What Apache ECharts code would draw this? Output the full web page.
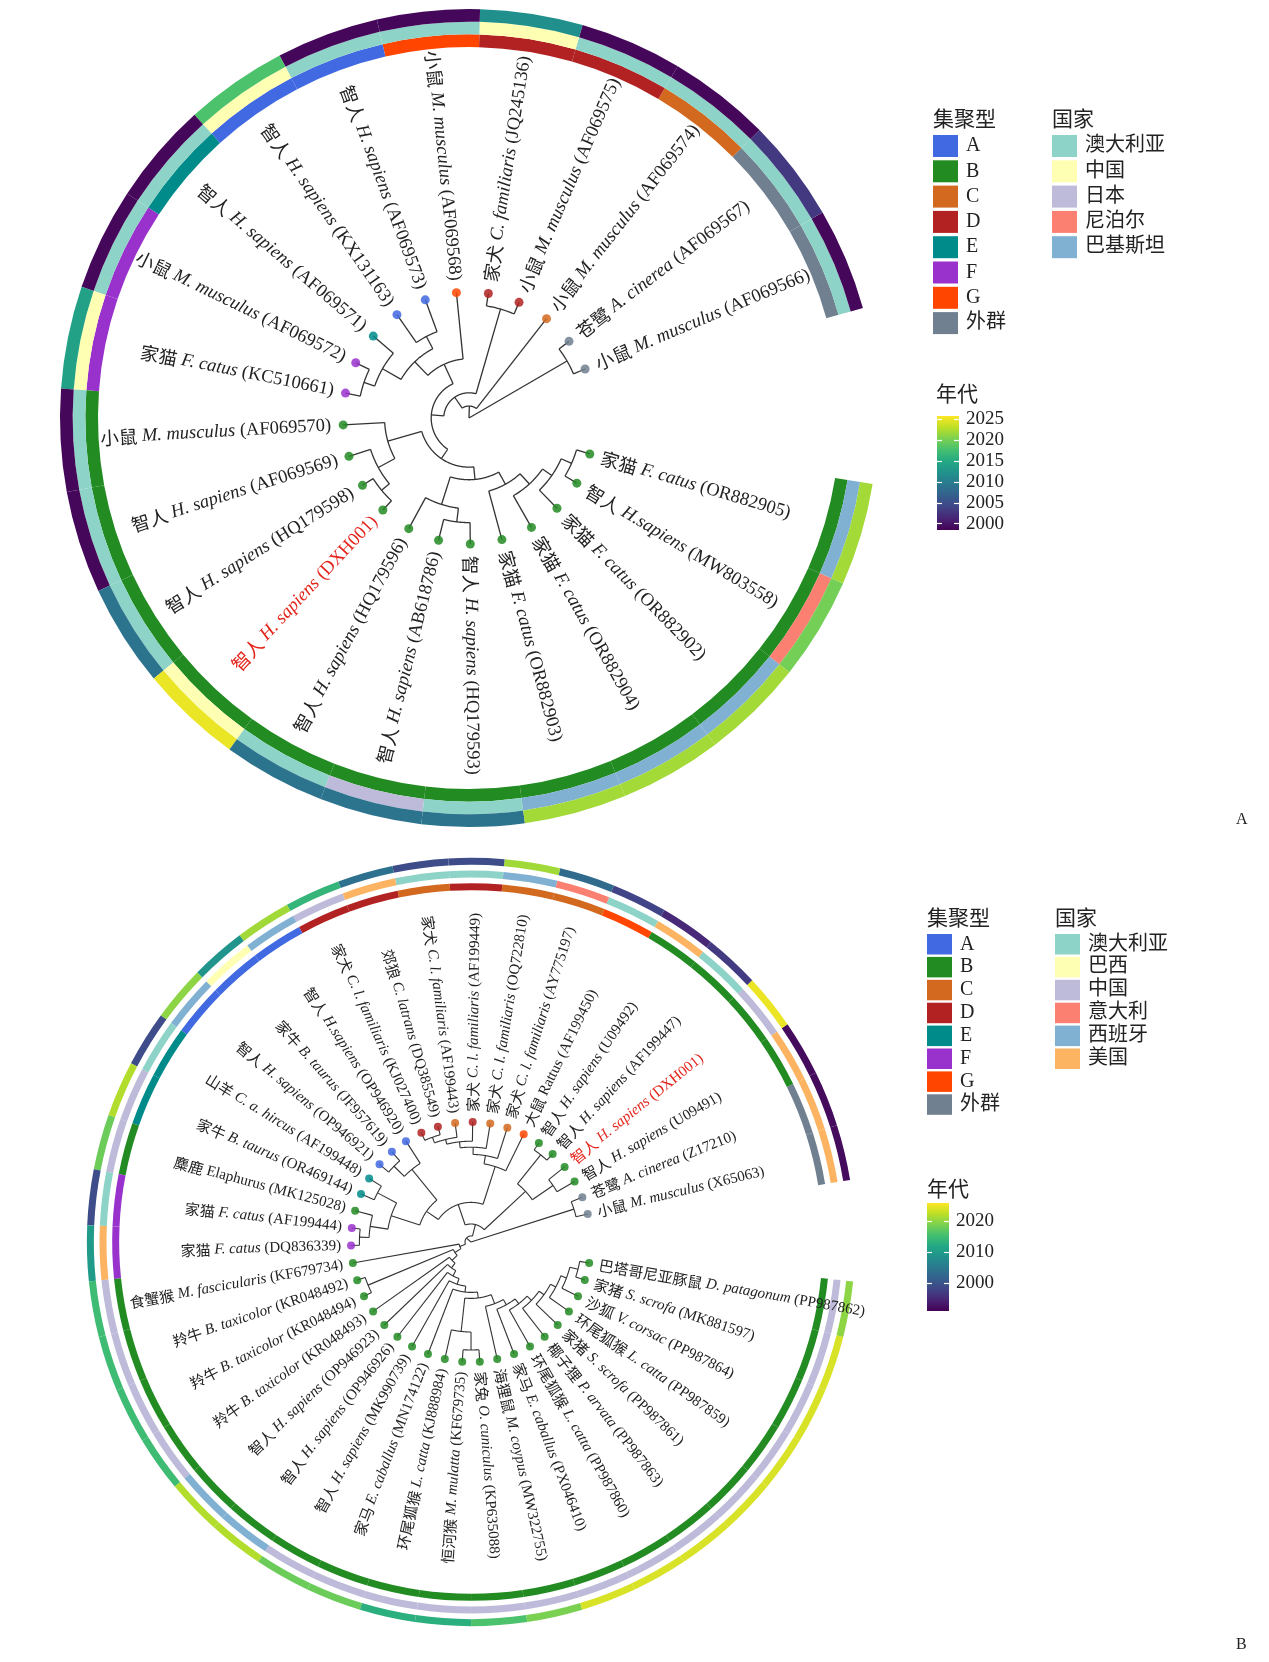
<!DOCTYPE html>
<html lang="zh">
<head>
<meta charset="utf-8">
<title>系统发育树</title>
<script src="https://cdn.jsdelivr.net/npm/echarts@6.0.0/dist/echarts.min.js"></script>
<style>
  html, body { margin: 0; padding: 0; background: #fff; }
  #main { width: 1269px; height: 1662px; }
</style>
</head>
<body>
<div id="main"></div>
<script type="text/javascript">
// ---------- 通用图例 ----------
var clusterNames = ['A', 'B', 'C', 'D', 'E', 'F', 'G', '外群'];
var clusterColors = ['#4169E1', '#228B22', '#D2691E', '#B22222', '#008B8B', '#9932CC', '#FF4500', '#708090'];

// ---------- 图 A ----------
var cnA = ['小鼠', '苍鹭', '小鼠', '小鼠', '家犬', '小鼠', '智人', '智人', '智人', '小鼠', '家猫', '小鼠',
  '智人', '智人', '智人', '智人', '智人', '智人', '家猫', '家猫', '家猫', '智人', '家猫'];
var spA = ['M. musculus', 'A. cinerea', 'M. musculus', 'M. musculus', 'C. familiaris', 'M. musculus',
  'H. sapiens', 'H. sapiens', 'H. sapiens', 'M. musculus', 'F. catus', 'M. musculus', 'H. sapiens',
  'H. sapiens', 'H. sapiens', 'H. sapiens', 'H. sapiens', 'H. sapiens', 'F. catus', 'F. catus',
  'F. catus', 'H.sapiens', 'F. catus'];
var accA = ['AF069566', 'AF069567', 'AF069574', 'AF069575', 'JQ245136', 'AF069568', 'AF069573',
  'KX131163', 'AF069571', 'AF069572', 'KC510661', 'AF069570', 'AF069569', 'HQ179598', 'DXH001',
  'HQ179596', 'AB618786', 'HQ179593', 'OR882903', 'OR882904', 'OR882902', 'MW803558', 'OR882905'];
var clusterA = ['外群', '外群', 'C', 'D', 'D', 'G', 'A', 'A', 'E', 'F', 'F', 'B', 'B', 'B', 'B', 'B',
  'B', 'B', 'B', 'B', 'B', 'B', 'B'];
var countryA = ['澳大利亚', '澳大利亚', '澳大利亚', '澳大利亚', '中国', '澳大利亚', '澳大利亚', '中国',
  '澳大利亚', '澳大利亚', '中国', '澳大利亚', '澳大利亚', '澳大利亚', '中国', '澳大利亚', '日本',
  '澳大利亚', '巴基斯坦', '巴基斯坦', '巴基斯坦', '尼泊尔', '巴基斯坦'];
var yearA = [1999, 2003, 1999, 1999, 2012, 1999, 1999, 2018, 1999, 1999, 2014, 1999, 1999, 2009,
  2025, 2009, 2009, 2009, 2022, 2022, 2022, 2020, 2022];
var countryNamesA = ['澳大利亚', '中国', '日本', '尼泊尔', '巴基斯坦'];
var countryColorsA = ['#8DD3C7', '#FFFFB3', '#BEBADA', '#FB8072', '#80B1D3'];
var yearTicksA = [2000, 2005, 2010, 2015, 2020, 2025];
var yearRangeA = [1998.5, 2025.8];
// 树结构: [节点深度(叶=100), 子节点...]，数字为叶序号
var treeA =
  [0,
    [90, 0, 1],
    [9.5, 2,
      [20,
        [90, 3, 4],
        [30,
          [47, 5, [62, [73, 6, 7], [79, 8, [88, 9, 10]]]],
          [39,
            [67, 11, [82, 12, [90, 13, 14]]],
            [49, [72, 15, [83, 16, 17]], [60, 18, [71, 19, [80, 20, [89, 21, 22]]]]]
          ]
        ]
      ]
    ]
  ];

// ---------- 图 B ----------
var cnB = ['小鼠', '苍鹭', '智人', '智人', '智人', '智人', '大鼠', '家犬', '家犬', '家犬', '家犬', '郊狼',
  '家犬', '智人', '家牛', '智人', '山羊', '家牛', '麋鹿', '家猫', '家猫', '食蟹猴', '羚牛', '羚牛', '羚牛',
  '智人', '智人', '智人', '家马', '环尾狐猴', '恒河猴', '家兔', '海狸鼠', '家马', '环尾狐猴', '椰子狸',
  '家猪', '环尾狐猴', '沙狐', '家猪', '巴塔哥尼亚豚鼠'];
var spB = ['M. musculus', 'A. cinerea', 'H. sapiens', 'H. sapiens', 'H. sapiens', 'H. sapiens', 'Rattus',
  'C. l. familiaris', 'C. l. familiaris', 'C. l. familiaris', 'C. l. familiaris', 'C. latrans',
  'C. l. familiaris', 'H.sapiens', 'B. taurus', 'H. sapiens', 'C. a. hircus', 'B. taurus', 'Elaphurus',
  'F. catus', 'F. catus', 'M. fascicularis', 'B. taxicolor', 'B. taxicolor', 'B. taxicolor',
  'H. sapiens', 'H. sapiens', 'H. sapiens', 'E. caballus', 'L. catta', 'M. mulatta', 'O. cuniculus',
  'M. coypus', 'E. caballus', 'L. catta', 'P. arvata', 'S. scrofa', 'L. catta', 'V. corsac',
  'S. scrofa', 'D. patagonum'];
var accB = ['X65063', 'Z17210', 'U09491', 'DXH001', 'AF199447', 'U09492', 'AF199450', 'AY775197',
  'OQ722810', 'AF199449', 'AF199443', 'DQ385549', 'KJ027400', 'OP946920', 'JF957619', 'OP946921',
  'AF199448', 'OR469144', 'MK125028', 'AF199444', 'DQ836339', 'KF679734', 'KR048492', 'KR048494',
  'KR048493', 'OP946923', 'OP946926', 'MK990739', 'MN174122', 'KJ888984', 'KF679735', 'KP635088',
  'MW322755', 'PX046410', 'PP987860', 'PP987863', 'PP987861', 'PP987859', 'PP987864', 'MK881597',
  'PP987862'];
var clusterB = ['外群', '外群', 'B', 'B', 'B', 'B', 'G', 'C', 'C', 'D', 'C', 'D', 'D', 'A', 'A', 'A',
  'E', 'E', 'B', 'F', 'F', 'B', 'B', 'B', 'B', 'B', 'B', 'B', 'B', 'B', 'B', 'B', 'B', 'B', 'B', 'B',
  'B', 'B', 'B', 'B', 'B'];
var countryB = ['美国', '美国', '美国', '中国', '澳大利亚', '美国', '澳大利亚', '意大利', '西班牙',
  '澳大利亚', '澳大利亚', '美国', '中国', '西班牙', '巴西', '西班牙', '澳大利亚', '中国', '中国',
  '澳大利亚', '美国', '中国', '中国', '中国', '中国', '西班牙', '西班牙', '中国', '中国', '中国', '中国',
  '中国', '中国', '中国', '中国', '中国', '中国', '中国', '中国', '中国', '中国'];
var yearB = [1992, 1992, 1992, 2025, 1997, 1995, 1998, 2003, 2021, 1999, 1999, 2004, 2014, 2021, 2009,
  2020, 1999, 2022, 2018, 1999, 2010, 2015, 2015, 2015, 2015, 2022, 2022, 2018, 2018, 2013, 2013, 2016,
  2019, 2024, 2024, 2024, 2024, 2024, 2024, 2024, 2020];
var countryNamesB = ['澳大利亚', '巴西', '中国', '意大利', '西班牙', '美国'];
var countryColorsB = ['#8DD3C7', '#FFFFB3', '#BEBADA', '#FB8072', '#80B1D3', '#FDB462'];
var yearTicksB = [2000, 2010, 2020];
var yearRangeB = [1991, 2026];
var treeB =
  [0,
    [90, 0, 1],
    [5,
      [15,
        [62, [83, 2, 3], [93, 4, 5]],
        [33,
          [66, 6, [73, 7, [79, 8, [84, 9, [88, 10, [93, 11, 12]]]]]],
          [45,
            [78, 13, [90, 14, 15]],
            [70, [88, 16, 17], [85, 18, [93, 19, 20]]]
          ]
        ]
      ],
      [10, 21,
        [16, [93, 22, 23],
          [22, 24,
            [27, 25,
              [32, 26,
                [37, 27,
                  [42, 28,
                    [47,
                      [75, 29, [90, 30, 31]],
                      [55, 32, [60, 33, [65, 34, [70, 35, [75, 36, [80, 37, [85, 38, [92, 39, 40]]]]]]]]
                    ]
                  ]
                ]
              ]
            ]
          ]
        ]
      ]
    ]
  ];
var plainNames = ['Rattus', 'Elaphurus'];

// ---------- 工具 ----------
var viridisStops = ['#440154', '#482475', '#414487', '#355f8d', '#2a788e', '#21918c', '#22a884',
  '#44bf70', '#7ad151', '#bddf26', '#fde725'];
function hexToRgb(h) {
  return [parseInt(h.slice(1, 3), 16), parseInt(h.slice(3, 5), 16), parseInt(h.slice(5, 7), 16)];
}
function viridis(t) {
  t = Math.max(0, Math.min(1, t));
  var x = t * (viridisStops.length - 1);
  var k = Math.min(Math.floor(x), viridisStops.length - 2), f = x - k;
  var a = hexToRgb(viridisStops[k]), b = hexToRgb(viridisStops[k + 1]);
  return 'rgb(' + [0, 1, 2].map(function (j) { return Math.round(a[j] + (b[j] - a[j]) * f); }).join(',') + ')';
}
function colorOf(name, names, colors) { return colors[names.indexOf(name)]; }

var SERIF = '"Liberation Serif", "Noto Sans CJK SC", serif';
var CJK = '"Noto Sans CJK SC", "Liberation Serif", sans-serif';

// 树布局：叶角度 = 序号+0.5，内节点角度 = 子节点角度范围的中点
function layoutTree(tree) {
  var nodes = [];
  function walk(n) {
    if (typeof n === 'number') return { depth: 100, angle: n + 0.5 };
    var kids = n.slice(1).map(walk);
    var angs = kids.map(function (k) { return k.angle; });
    var me = { depth: n[0], angle: (Math.min.apply(null, angs) + Math.max.apply(null, angs)) / 2, kids: kids };
    nodes.push(me);
    return me;
  }
  walk(tree);
  return nodes;
}

function treeSeries(nodes, polarIndex, lw) {
  return {
    type: 'custom', coordinateSystem: 'polar', polarIndex: polarIndex, silent: true, z: 2,
    data: nodes.map(function (n) { return [n.depth, n.angle]; }),
    renderItem: function (params, api) {
      var n = nodes[params.dataIndex];
      var lo = Infinity, hi = -Infinity, parts = [];
      var st = { stroke: '#333', lineWidth: lw, fill: null };
      n.kids.forEach(function (k) {
        lo = Math.min(lo, k.angle); hi = Math.max(hi, k.angle);
        parts.push({ type: 'polyline', shape: { points: [api.coord([n.depth, k.angle]), api.coord([k.depth, k.angle])] }, style: st });
      });
      var arc = [], steps = Math.max(2, Math.ceil((hi - lo) / 0.04));
      for (var s = 0; s <= steps; s++) arc.push(api.coord([n.depth, lo + (hi - lo) * s / steps]));
      parts.push({ type: 'polyline', shape: { points: arc }, style: st });
      return { type: 'group', children: parts };
    }
  };
}

function tipSeries(clusters, polarIndex, size) {
  return {
    type: 'scatter', coordinateSystem: 'polar', polarIndex: polarIndex, silent: true, z: 3,
    symbolSize: size,
    data: clusters.map(function (c, i) {
      return { value: [100, i + 0.5], itemStyle: { color: colorOf(c, clusterNames, clusterColors), opacity: 0.85 } };
    })
  };
}

function labelSeries(cn, sp, acc, polarIndex, fs, gap) {
  return {
    type: 'custom', coordinateSystem: 'polar', polarIndex: polarIndex, silent: true, z: 4,
    data: acc.map(function (a, i) { return [100, i + 0.5]; }),
    renderItem: function (params, api) {
      var i = params.dataIndex, cs = params.coordSys;
      var p = api.coord([api.value(0), api.value(1)]);
      var th = Math.atan2(cs.cy - p[1], p[0] - cs.cx);
      var flip = Math.cos(th) < -1e-6;
      var x = p[0] + gap * Math.cos(th), y = p[1] - gap * Math.sin(th);
      var col = acc[i] === 'DXH001' ? '#E3241B' : '#222';
      var italic = plainNames.indexOf(sp[i]) < 0;
      return {
        type: 'text', x: x, y: y, rotation: flip ? th - Math.PI : th,
        style: {
          text: '{c|' + cn[i] + '} {s|' + sp[i] + '} {n|(' + acc[i] + ')}',
          fill: col, fontSize: fs, fontFamily: SERIF,
          align: flip ? 'right' : 'left', verticalAlign: 'middle',
          rich: {
            c: { fontFamily: CJK, fontSize: fs, fill: col },
            s: { fontFamily: SERIF, fontStyle: italic ? 'italic' : 'normal', fontSize: fs, fill: col },
            n: { fontFamily: SERIF, fontSize: fs, fill: col }
          }
        }
      };
    }
  };
}

function ringSeries(clusters, countries, years, polarIndex, stackName, cNames, cColors, range, bw) {
  return clusters.map(function (c, i) {
    var s = {
      type: 'bar', coordinateSystem: 'polar', polarIndex: polarIndex, stack: stackName, silent: true,
      barCategoryGap: '0%', z: 1,
      data: [
        { value: 1, itemStyle: { color: colorOf(c, clusterNames, clusterColors) } },
        { value: 1, itemStyle: { color: colorOf(countries[i], cNames, cColors) } },
        { value: 1, itemStyle: { color: viridis((years[i] - range[0]) / (range[1] - range[0])) } }
      ]
    };
    if (bw) s.barWidth = bw;
    return s;
  });
}

function colorbarSeries(idx, range) {
  var stops = viridisStops.map(function (c, k) { return { offset: k / (viridisStops.length - 1), color: c }; });
  return {
    type: 'custom', xAxisIndex: idx, yAxisIndex: idx * 2, silent: true, z: 1,
    data: [[0, range[0], range[1]]],
    renderItem: function (params, api) {
      var lo = api.coord([0, api.value(1)]), hi = api.coord([0, api.value(2)]);
      var w = api.size([1, 0])[0];
      return {
        type: 'rect', shape: { x: lo[0] - w / 2, y: hi[1], width: w, height: lo[1] - hi[1] },
        style: { fill: new echarts.graphic.LinearGradient(0, 1, 0, 0, stops) }
      };
    }
  };
}

function colorbarAxes(idx, range, ticks) {
  var tick = { show: true, inside: true, length: 5, lineStyle: { color: '#fff', width: 1.2 }, customValues: ticks };
  return [
    { gridIndex: idx, type: 'value', min: range[0], max: range[1], position: 'right', z: 10,
      splitLine: { show: false }, axisLine: { show: false }, axisTick: tick,
      axisLabel: { customValues: ticks, fontSize: 19, fontFamily: SERIF, color: '#222', margin: 7,
        formatter: function (v) { return String(Math.round(v)); } } },
    { gridIndex: idx, type: 'value', min: range[0], max: range[1], position: 'left', z: 10,
      splitLine: { show: false }, axisLine: { show: false }, axisTick: tick, axisLabel: { show: false } }
  ];
}

function legendBlock(x, y, title, names, colors, pitch, boxH) {
  var els = [{ type: 'text', x: x, y: y, style: { text: title, fontSize: 21, fontFamily: CJK, fill: '#222', verticalAlign: 'middle' } }];
  names.forEach(function (n, i) {
    var top = y + 17 + i * pitch;
    els.push({ type: 'rect', shape: { x: x, y: top, width: 25, height: boxH }, style: { fill: colors[i] } });
    els.push({ type: 'text', x: x + 33, y: top + boxH / 2,
      style: { text: n, fontSize: 20, fontFamily: SERIF, fill: '#222', verticalAlign: 'middle' } });
  });
  return els;
}

// ---------- 组装 ----------
var stepA = 14.57, startA = 15.6;
var stepB = 8.41, startB = 9.3;
var nodesA = layoutTree(treeA), nodesB = layoutTree(treeB);

function angleAx(i, step, start) {
  return { polarIndex: i, type: 'value', min: 0, max: 360 / step, startAngle: start, clockwise: false, show: false,
    axisLine: { show: false }, axisTick: { show: false }, axisLabel: { show: false }, splitLine: { show: false } };
}
function radiusAx(i, cat) {
  var a = { polarIndex: i, show: false, axisLine: { show: false }, axisTick: { show: false },
    axisLabel: { show: false }, splitLine: { show: false } };
  if (cat) { a.type = 'category'; a.data = ['集聚型', '国家', '年代']; }
  else { a.type = 'value'; a.min = 0; a.max = 100; }
  return a;
}

var series = []
  .concat(ringSeries(clusterA, countryA, yearA, 1, 'ringA', countryNamesA, countryColorsA, yearRangeA))
  .concat(ringSeries(clusterB, countryB, yearB, 3, 'ringB', countryNamesB, countryColorsB, yearRangeB, 7))
  .concat([
    treeSeries(nodesA, 0, 1.3),
    tipSeries(clusterA, 0, 9),
    labelSeries(cnA, spA, accA, 0, 18.5, 12),
    treeSeries(nodesB, 2, 1.1),
    tipSeries(clusterB, 2, 8),
    labelSeries(cnB, spB, accB, 2, 15, 10),
    colorbarSeries(0, yearRangeA),
    colorbarSeries(1, yearRangeB)
  ]);

var graphics = []
  .concat(legendBlock(933, 118, '集聚型', clusterNames, clusterColors, 25.3, 22))
  .concat(legendBlock(1052, 118, '国家', countryNamesA, countryColorsA, 25.3, 22))
  .concat(legendBlock(927, 917, '集聚型', clusterNames, clusterColors, 22.9, 20.5))
  .concat(legendBlock(1055, 917, '国家', countryNamesB, countryColorsB, 22.9, 20.5))
  .concat([
    { type: 'text', x: 936, y: 393, style: { text: '年代', fontSize: 21, fontFamily: CJK, fill: '#222', verticalAlign: 'middle' } },
    { type: 'text', x: 927, y: 1188, style: { text: '年代', fontSize: 21, fontFamily: CJK, fill: '#222', verticalAlign: 'middle' } },
    { type: 'text', x: 1236, y: 820, style: { text: 'A', fontSize: 16, fontFamily: SERIF, fill: '#222', verticalAlign: 'middle' } },
    { type: 'text', x: 1236, y: 1645, style: { text: 'B', fontSize: 16, fontFamily: SERIF, fill: '#222', verticalAlign: 'middle' } }
  ]);

var option = {
  animation: false,
  backgroundColor: '#fff',
  polar: [
    { center: [469, 418], radius: 126 },
    { center: [469, 418], radius: [371, 409] },
    { center: [471, 1242], radius: 120 },
    { center: [471, 1242], radius: [349, 387] }
  ],
  angleAxis: [angleAx(0, stepA, startA), angleAx(1, stepA, startA), angleAx(2, stepB, startB), angleAx(3, stepB, startB)],
  radiusAxis: [radiusAx(0), radiusAx(1, true), radiusAx(2), radiusAx(3, true)],
  grid: [
    { left: 937, top: 416, width: 22, height: 114 },
    { left: 927, top: 1203, width: 22, height: 108 }
  ],
  xAxis: [
    { gridIndex: 0, type: 'category', data: ['年代'], show: false },
    { gridIndex: 1, type: 'category', data: ['年代'], show: false }
  ],
  yAxis: colorbarAxes(0, yearRangeA, yearTicksA).concat(colorbarAxes(1, yearRangeB, yearTicksB)),
  graphic: { elements: graphics },
  series: series
};

var myChart = echarts.init(document.getElementById('main'));
myChart.setOption(option);
</script>
</body>
</html>
